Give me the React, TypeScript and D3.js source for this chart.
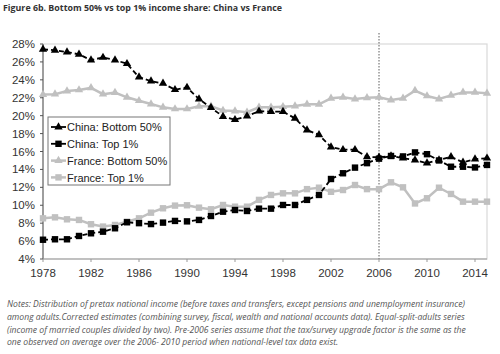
import React from "react";
import * as d3 from "d3";

const years = d3.range(1978, 2016);
const chinaBottom50 = [27.4, 27.3, 27.1, 26.85, 26.2, 26.5, 26.2, 25.8, 24.3, 23.85, 23.6, 22.9, 23.15, 21.85, 20.9, 19.9, 19.55, 19.95, 20.5, 20.45, 20.45, 19.7, 18.4, 17.85, 16.5, 16.2, 16.2, 15.4, 15.35, 15.5, 15.25, 15.05, 14.7, 15.05, 15.4, 14.8, 15.15, 15.25];
const chinaTop1 = [6.15, 6.2, 6.2, 6.57, 6.87, 7.05, 7.43, 8.1, 8.0, 7.9, 8.06, 8.25, 8.2, 8.36, 8.8, 9.28, 9.47, 9.36, 9.62, 9.62, 10.03, 10.03, 10.6, 11.15, 12.93, 13.57, 14.2, 14.7, 15.2, 15.5, 15.45, 15.9, 15.7, 15.0, 14.3, 14.3, 14.22, 14.5];
const franceBottom50 = [22.35, 22.4, 22.75, 22.87, 23.1, 22.4, 22.57, 22.05, 21.67, 21.3, 20.93, 20.75, 20.75, 21.05, 21.05, 20.58, 20.52, 20.38, 20.93, 20.93, 21.0, 21.08, 21.27, 21.27, 21.94, 22.05, 21.86, 22.0, 22.05, 21.75, 21.94, 22.8, 22.2, 21.86, 22.27, 22.6, 22.6, 22.5];
const franceTop1 = [8.54, 8.65, 8.43, 8.36, 7.88, 7.62, 7.8, 8.17, 8.54, 9.17, 9.66, 9.96, 10.0, 9.73, 9.55, 10.03, 9.84, 9.84, 10.6, 11.15, 11.33, 11.33, 11.8, 11.96, 11.5, 11.7, 12.26, 11.8, 11.8, 12.56, 12.0, 10.2, 10.78, 11.96, 11.26, 10.4, 10.4, 10.4];

const yTicks = [4, 6, 8, 10, 12, 14, 16, 18, 20, 22, 24, 26, 28];
const xTicks = [1978, 1982, 1986, 1990, 1994, 1998, 2002, 2006, 2010, 2014];
const seriesNames = ["China: Bottom 50%", "China: Top 1%", "France: Bottom 50%", "France: Top 1%"];
const titleText = "Figure 6b. Bottom 50% vs top 1% income share: China vs France";
const noteLines = [
  "Notes: Distribution of pretax national income (before taxes and transfers, except pensions and unemployment insurance)",
  "among adults.Corrected estimates (combining survey, fiscal, wealth and national accounts data). Equal-split-adults series",
  "(income of married couples divided by two). Pre-2006 series assume that the tax/survey upgrade factor is the same as the",
  "one observed on average over the 2006- 2010 period when national-level tax data exist.",
];

const series = [
  { name: seriesNames[0], values: chinaBottom50, color: "#000", dash: "5,3", marker: "triangle", width: 1.8 },
  { name: seriesNames[1], values: chinaTop1, color: "#000", dash: "5,3", marker: "square", width: 1.8 },
  { name: seriesNames[2], values: franceBottom50, color: "#c0c0c0", dash: null, marker: "triangle", width: 2.5 },
  { name: seriesNames[3], values: franceTop1, color: "#c0c0c0", dash: null, marker: "square", width: 2.5 },
];

const x = d3.scaleLinear().domain([1978, 2015]).range([43, 487]);
const y = d3.scaleLinear().domain([4, 28]).range([259, 44]);

function Marker({ type, cx, cy, color }: { type: string; cx: number; cy: number; color: string }) {
  if (type === "square") {
    return <rect x={cx - 3.2} y={cy - 3.2} width={6.4} height={6.4} fill={color} />;
  }
  const sym = d3.symbol().type(d3.symbolTriangle).size(30)();
  return <path d={sym || ""} transform={`translate(${cx},${cy})`} fill={color} />;
}

export default function App() {
  const line = d3
    .line<number>()
    .x((_, i) => x(years[i]))
    .y((v) => y(v));
  const axisFont = "'Liberation Sans', Arial, sans-serif";
  const noteFont = "'Open Sans', sans-serif";
  return (
    <svg width={500} height={354} style={{ position: "absolute", left: 0, top: 0, background: "#fff" }}>
      <rect x={0} y={0} width={500} height={354} fill="#fff" />
      <text x={3} y={11} fontFamily={noteFont} fontWeight="bold" fontSize={8.85} fill="#333">
        {titleText}
      </text>
      <rect x={43} y={44} width={444} height={215} fill="none" stroke="#d9d9d9" strokeWidth={1.2} />
      <line x1={x(2006)} x2={x(2006)} y1={33} y2={259} stroke="#333" strokeWidth={0.8} strokeDasharray="1.5,1.5" />
      <line x1={43} x2={43} y1={44} y2={259} stroke="#555" strokeWidth={1} />
      <line x1={43} x2={487} y1={259} y2={259} stroke="#999" strokeWidth={1} />
      {yTicks.map((t) => (
        <g key={t}>
          <line x1={40} x2={43} y1={y(t)} y2={y(t)} stroke="#555" />
          <text x={35} y={y(t) + 4} textAnchor="end" fontFamily={axisFont} fontSize={11.5} fill="#333">
            {t}%
          </text>
        </g>
      ))}
      {xTicks.map((t) => (
        <g key={t}>
          <line x1={x(t)} x2={x(t)} y1={259} y2={262} stroke="#999" />
          <text x={x(t)} y={277} textAnchor="middle" fontFamily={axisFont} fontSize={11.5} fill="#333">
            {t}
          </text>
        </g>
      ))}
      {series
        .slice()
        .reverse()
        .map((s) => (
          <g key={s.name}>
            <path
              d={line(s.values) || ""}
              fill="none"
              stroke={s.color}
              strokeWidth={s.width}
              strokeDasharray={s.dash || undefined}
            />
            {s.values.map((v, i) => (
              <Marker key={i} type={s.marker} cx={x(years[i])} cy={y(v)} color={s.color} />
            ))}
          </g>
        ))}
      <rect x={48} y={117} width={122} height={68} fill="#fff" stroke="#777" strokeWidth={1} />
      {series.map((s, i) => {
        const ly = 127 + i * 16.8;
        return (
          <g key={s.name}>
            <line x1={51} x2={66} y1={ly} y2={ly} stroke={s.color} strokeWidth={s.width} />
            <Marker type={s.marker} cx={58.5} cy={ly} color={s.color} />
            <text x={67} y={ly + 4.2} fontFamily={axisFont} fontSize={11} fill="#222">
              {s.name}
            </text>
          </g>
        );
      })}
      {noteLines.map((l, i) => (
        <text key={i} x={7} y={307 + i * 12.8} fontFamily={noteFont} fontStyle="italic" fontSize={8.6} fill="#555">
          {l}
        </text>
      ))}
    </svg>
  );
}
